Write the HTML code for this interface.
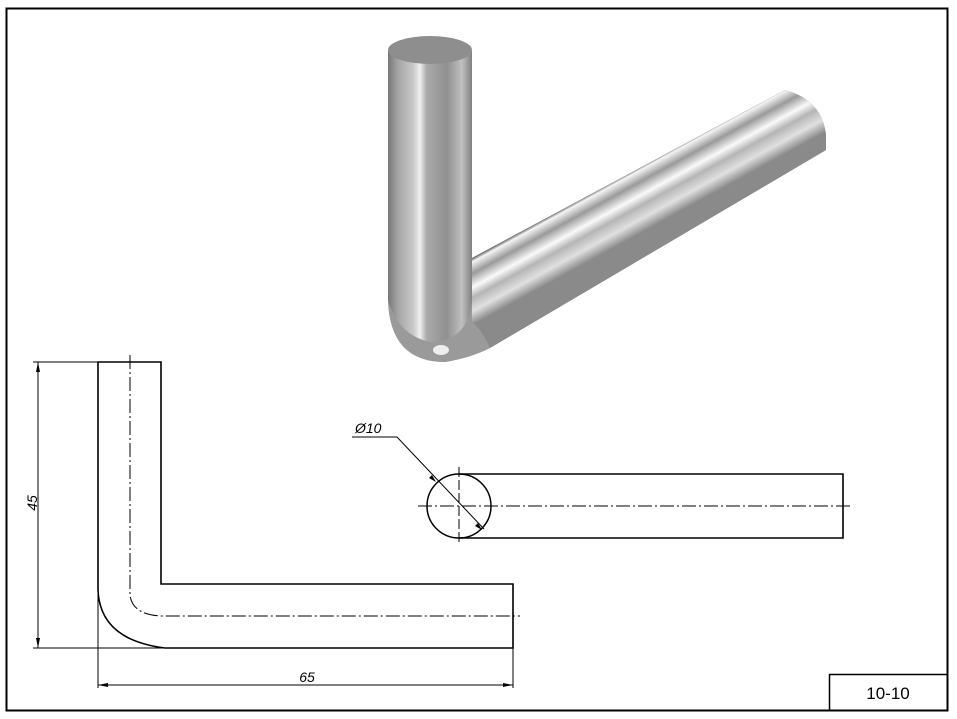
<!DOCTYPE html>
<html><head><meta charset="utf-8"><style>
html,body{margin:0;padding:0;background:#fff;}
svg{display:block;}
text{font-family:"Liberation Sans",sans-serif;font-style:italic;}
</style></head><body>
<svg width="957" height="719" viewBox="0 0 957 719" xmlns="http://www.w3.org/2000/svg">
<defs>
<linearGradient id="gv" gradientUnits="userSpaceOnUse" x1="388" x2="472" y1="0" y2="0">
<stop offset="0" stop-color="#777"/><stop offset="0.12" stop-color="#a5a5a5"/><stop offset="0.3" stop-color="#c8c8c8"/><stop offset="0.38" stop-color="#f0f0f0"/><stop offset="0.46" stop-color="#aaa"/><stop offset="0.7" stop-color="#909090"/><stop offset="0.88" stop-color="#c0c0c0"/><stop offset="1" stop-color="#808080"/>
</linearGradient>
<linearGradient id="gd" gradientUnits="userSpaceOnUse" x1="780" y1="88" x2="809" y2="141">
<stop offset="0" stop-color="#222"/><stop offset="0.08" stop-color="#f5f5f5"/><stop offset="0.25" stop-color="#9a9a9a"/><stop offset="0.45" stop-color="#fafafa"/><stop offset="0.6" stop-color="#b5b5b5"/><stop offset="0.8" stop-color="#e0e0e0"/><stop offset="1" stop-color="#8a8a8a"/>
</linearGradient>
</defs>
<rect x="6.5" y="8.5" width="941" height="702" fill="none" stroke="#000" stroke-width="2"/>
<rect x="829.5" y="674.5" width="118" height="36" fill="none" stroke="#000" stroke-width="1.5"/>
<text x="888" y="699" font-size="17" text-anchor="middle" style="font-style:normal">10-10</text>

<!-- 3D -->
<path d="M388,50 L388,300 Q390,362 445,362 Q470,358 490,348 L826,150 L826,135 Q822,100 785,90 L472,258 L472,50 Z" fill="url(#gv)"/>
<path d="M472,258 L785,90 Q822,100 826,135 L826,150 L490,348 Q482,330 472,325 Z" fill="url(#gd)"/>
<path d="M388,300 Q390,362 445,362 Q470,358 490,348 Q482,330 472,322 L472,300 Q468,342 430,342 Q398,335 388,300 Z" fill="#9a9a9a"/>
<ellipse cx="441" cy="350" rx="8" ry="5" fill="#eee"/>
<ellipse cx="430" cy="50" rx="42" ry="14" fill="#8e8e8e"/>

<!-- Front L view -->
<g stroke="#000" fill="none">
<path d="M98,362 L161,362 L161,584 L513,584 L513,648 L165,648 Q100,640 98,590 Z" stroke-width="1.6"/>
<path d="M130,355 L130,595 Q132,614 160,616 L520,616" stroke-width="1" stroke-dasharray="14,3,2,3"/>
<line x1="33" y1="362" x2="98" y2="362" stroke-width="1"/>
<line x1="33" y1="648" x2="165" y2="648" stroke-width="1"/>
<line x1="38" y1="362" x2="38" y2="648" stroke-width="1"/>
<line x1="98" y1="590" x2="98" y2="688" stroke-width="1"/>
<line x1="513" y1="648" x2="513" y2="688" stroke-width="1"/>
<line x1="98" y1="685" x2="513" y2="685" stroke-width="1"/>
</g>
<g fill="#000">
<path d="M38,362 l-2,10 l4,0 z"/><path d="M38,648 l-2,-10 l4,0 z"/>
<path d="M98,685 l10,-2 l0,4 z"/><path d="M513,685 l-10,-2 l0,4 z"/>
</g>
<text x="0" y="0" font-size="14" transform="translate(37,503) rotate(-90)" text-anchor="middle">45</text>
<text x="307" y="682" font-size="14" text-anchor="middle">65</text>

<!-- Side view -->
<g stroke="#000" fill="none">
<circle cx="459" cy="506" r="32" stroke-width="1.5"/>
<path d="M459,474 L843,474 L843,538 L459,538" stroke-width="1.6"/>
<line x1="418" y1="506" x2="852" y2="506" stroke-width="1" stroke-dasharray="14,3,2,3"/>
<line x1="459" y1="467" x2="459" y2="545" stroke-width="1" stroke-dasharray="10,3"/>
<polyline points="352,437 397,437 484,529" stroke-width="1"/>
</g>
<g fill="#000">
<path d="M436,482 l-7,-4 l3,-3 z"/>
<path d="M482,530 l-4,-7 l-3,3 z"/>
</g>
<text x="355" y="433" font-size="14">Ø10</text>
</svg>
</body></html>
